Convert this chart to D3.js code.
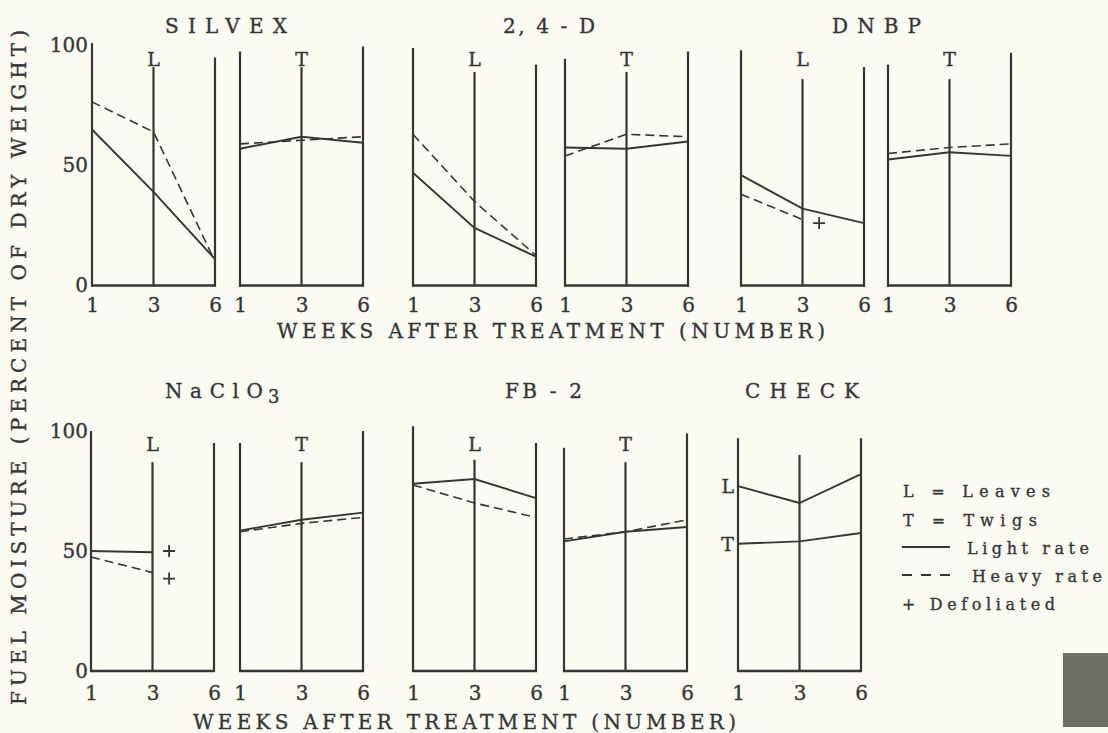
<!DOCTYPE html>
<html><head><meta charset="utf-8">
<script src="https://cdn.jsdelivr.net/npm/d3@7"></script>
<style>
body{margin:0;background:#fbfbf4;}
svg{display:block;background:#fbfbf4;}
</style>
</head><body>
<svg id="chart" width="1108" height="733"></svg>
<script>
// ---------- DATA ----------
const weeks = ["1", "3", "6"];
const yTicks = [0, 50, 100];
const treatments = ["SILVEX", "2, 4 - D", "DNBP", "NaClO3", "FB - 2", "CHECK"];

const silvexLeavesLight = [65, 39, 11];
const silvexLeavesHeavy = [76.5, 64, 10];
const silvexTwigsLight  = [57, 62, 59.5];
const silvexTwigsHeavy  = [59, 60.5, 62];

const d24LeavesLight = [47, 24, 12];
const d24LeavesHeavy = [63, 35, 12.5];
const d24TwigsLight  = [57.5, 57, 60];
const d24TwigsHeavy  = [54, 63, 62];

const dnbpLeavesLight = [46, 32, 26];
const dnbpLeavesHeavy = [38, 27.5, null];
const dnbpTwigsLight  = [52.5, 55.5, 54];
const dnbpTwigsHeavy  = [55, 57.5, 59];

const naclo3LeavesLight = [50, 49.5, null];
const naclo3LeavesHeavy = [47.5, 41, null];
const naclo3TwigsLight  = [58.5, 63, 66];
const naclo3TwigsHeavy  = [58, 61.5, 64];

const fb2LeavesLight = [78, 80, 72];
const fb2LeavesHeavy = [77.5, 70, 64];
const fb2TwigsLight  = [54, 58, 60];
const fb2TwigsHeavy  = [55, 58, 63];

const checkLeaves = [77, 70, 82];
const checkTwigs  = [53, 54, 57.5];

// defoliated markers (plants defoliated after this week; moisture level)
const defoliatedTreatment = ["DNBP", "NaClO3", "NaClO3"];
const defoliatedWeek      = ["3", "3", "3"];
const defoliatedValue     = [26, 50, 38.5];

const legendItems = ["L = Leaves", "T = Twigs", "Light rate", "Heavy rate", "+ Defoliated"];
const axisTitleX = "WEEKS AFTER TREATMENT (NUMBER)";
const axisTitleY = "FUEL MOISTURE (PERCENT OF DRY WEIGHT)";

// ---------- LAYOUT ----------
const FONT = '"DejaVu Serif", serif';
const INK = "#363636";
const svg = d3.select("#chart").style("font-family", FONT);
function txt(g, x, y, size, s) {
  return g.append("text").attr("x", x).attr("y", y)
    .style("font-family", FONT).style("font-size", size + "px").style("fill", INK)
    .style("stroke", INK).style("stroke-width", "0.35px").text(s);
}
const rows = [
  {y0: 285.5, tickY: 312, labelY: 66, titleY: 33, axY: 338, axX: [277, 825]},
  {y0: 671,   tickY: 700, labelY: 451, titleY: 398, axY: 729, axX: [193, 736]}
];
rows.forEach(r => r.y = d3.scaleLinear().domain([0, 100]).range([r.y0, r.y0 - 240]));

const PW = 123;
const groups = [
  {name: treatments[0], row: 0, tx: 165, tw: 122,
   L: {x0: 92, tops: [101, 91, 95], light: silvexLeavesLight, heavy: silvexLeavesHeavy},
   T: {x0: 240, tops: [97.5, 91, 99.6], light: silvexTwigsLight, heavy: silvexTwigsHeavy}, yAxis: true},
  {name: treatments[1], row: 0, tx: 503, tw: 92,
   L: {x0: 413, tops: [99, 89, 92], light: d24LeavesLight, heavy: d24LeavesHeavy},
   T: {x0: 565, tops: [94.5, 89, 97.5], light: d24TwigsLight, heavy: d24TwigsHeavy}},
  {name: treatments[2], row: 0, tx: 832, tw: 89,
   L: {x0: 741, tops: [98, 86, 91], light: dnbpLeavesLight, heavy: dnbpLeavesHeavy},
   T: {x0: 888, tops: [92, 86, 97], light: dnbpTwigsLight, heavy: dnbpTwigsHeavy}},
  {name: treatments[3], row: 1, tx: 165, tw: 98,
   L: {x0: 91, tops: [100, 87, 95], light: naclo3LeavesLight, heavy: naclo3LeavesHeavy},
   T: {x0: 240, tops: [95, 87, 100], light: naclo3TwigsLight, heavy: naclo3TwigsHeavy}, yAxis: true},
  {name: treatments[4], row: 1, tx: 505, tw: 77,
   L: {x0: 413, tops: [102, 88, 95], light: fb2LeavesLight, heavy: fb2LeavesHeavy},
   T: {x0: 564, tops: [93, 87, 99], light: fb2TwigsLight, heavy: fb2TwigsHeavy}},
  {name: treatments[5], row: 1, tx: 745, tw: 114,
   C: {x0: 738, tops: [97, 90, 97], lines: [checkLeaves, checkTwigs], labels: ["L", "T"]}}
];

function frame(g, x, y, tops) {
  weeks.forEach((w, i) => {
    g.append("line").attr("x1", x(w)).attr("x2", x(w))
      .attr("y1", y(0) + 1).attr("y2", y(tops[i]))
      .attr("stroke", INK).attr("stroke-width", 2.2);
  });
  g.append("line").attr("x1", x(weeks[0]) - 1).attr("x2", x(weeks[2]) + 1)
    .attr("y1", y(0)).attr("y2", y(0)).attr("stroke", INK).attr("stroke-width", 2.6);
}
function styleAxisText(sel) {
  sel.style("font-family", FONT).style("font-size", "20px").style("fill", INK)
    .style("stroke", INK).style("stroke-width", "0.35px");
}
function ticks(g, x, r) {
  const a = g.append("g").attr("transform", `translate(0,${r.tickY})`)
    .call(d3.axisBottom(x).tickSize(0).tickPadding(0));
  a.select(".domain").remove();
  a.attr("font-family", null).attr("font-size", null);
  styleAxisText(a.selectAll("text").attr("dy", 0).attr("y", 0));
}
function series(g, x, y, vals, dashed) {
  const line = d3.line().defined(d => d != null).x((d, i) => x(weeks[i])).y(d => y(d));
  g.append("path").datum(vals).attr("d", d => line(d))
    .attr("fill", "none").attr("stroke", INK)
    .attr("stroke-width", dashed ? 1.6 : 1.9)
    .attr("stroke-dasharray", dashed ? "9,5" : null);
}

groups.forEach(gr => {
  const r = rows[gr.row];
  const g = svg.append("g");
  if (gr.name === "NaClO3") {
    txt(g, gr.tx, r.titleY, 20, "NaClO").attr("textLength", gr.tw).attr("lengthAdjust", "spacing");
    txt(g, 268, r.titleY + 5, 18, "3");
  } else {
    txt(g, gr.tx, r.titleY, 20, gr.name).attr("textLength", gr.tw).attr("lengthAdjust", "spacing");
  }
  ["L", "T"].forEach(part => {
    const p = gr[part];
    if (!p) return;
    const x = d3.scalePoint().domain(weeks).range([p.x0, p.x0 + PW]);
    frame(g, x, r.y, p.tops);
    ticks(g, x, r);
    txt(g, x(weeks[1]), r.labelY, 19, part).attr("text-anchor", "middle");
    series(g, x, r.y, p.light, false);
    series(g, x, r.y, p.heavy, true);
    if (part === "L") {
      defoliatedTreatment.forEach((t, i) => {
        if (t !== gr.name) return;
        const cx = x(defoliatedWeek[i]) + (x(weeks[2]) - x(defoliatedWeek[i])) * 0.27;
        const cy = r.y(defoliatedValue[i]);
        g.append("path").attr("d", `M${cx - 6},${cy}H${cx + 6}M${cx},${cy - 6}V${cy + 6}`)
          .attr("stroke", INK).attr("stroke-width", 1.8);
      });
    }
  });
  if (gr.C) {
    const p = gr.C;
    const x = d3.scalePoint().domain(weeks).range([p.x0, p.x0 + PW]);
    frame(g, x, r.y, p.tops);
    ticks(g, x, r);
    p.lines.forEach((vals, i) => {
      series(g, x, r.y, vals, false);
      txt(g, x(weeks[0]) - 4, r.y(vals[0]) + 7, 19, p.labels[i]).attr("text-anchor", "end");
    });
  }
  if (gr.yAxis) {
    const a = g.append("g").attr("transform", `translate(88,0)`)
      .call(d3.axisLeft(r.y).tickValues(yTicks).tickSize(0).tickPadding(0));
    a.select(".domain").remove();
    a.attr("font-family", null).attr("font-size", null);
    styleAxisText(a.selectAll("text"));
  }
});

// x axis titles
rows.forEach(r => {
  txt(svg, r.axX[0], r.axY, 20, axisTitleX)
    .attr("textLength", r.axX[1] - r.axX[0]).attr("lengthAdjust", "spacing");
});
// y axis title
txt(svg, 0, 0, 20, axisTitleY).attr("transform", "translate(26,705) rotate(-90)")
  .attr("textLength", 675).attr("lengthAdjust", "spacing");

// legend
const lg = svg.append("g");
const lb = [497, 526, 554, 582, 610];
txt(lg, 903, lb[0], 16, legendItems[0]).attr("textLength", 147).attr("lengthAdjust", "spacing");
txt(lg, 903, lb[1], 16, legendItems[1]).attr("textLength", 134).attr("lengthAdjust", "spacing");
lg.append("line").attr("x1", 902).attr("x2", 950).attr("y1", lb[2] - 7).attr("y2", lb[2] - 7)
  .attr("stroke", INK).attr("stroke-width", 2);
txt(lg, 967, lb[2], 16, legendItems[2]).attr("textLength", 122).attr("lengthAdjust", "spacing");
lg.append("line").attr("x1", 902).attr("x2", 958).attr("y1", lb[3] - 7).attr("y2", lb[3] - 7)
  .attr("stroke", INK).attr("stroke-width", 2).attr("stroke-dasharray", "10,9");
txt(lg, 972, lb[3], 16, legendItems[3]).attr("textLength", 130).attr("lengthAdjust", "spacing");
txt(lg, 902, lb[4], 16, legendItems[4]).attr("textLength", 153).attr("lengthAdjust", "spacing");

// scan artefact block (bottom right)
svg.append("rect").attr("x", 1063).attr("y", 653).attr("width", 45).attr("height", 74).attr("fill", "#6d6d66");
</script>
</body></html>
